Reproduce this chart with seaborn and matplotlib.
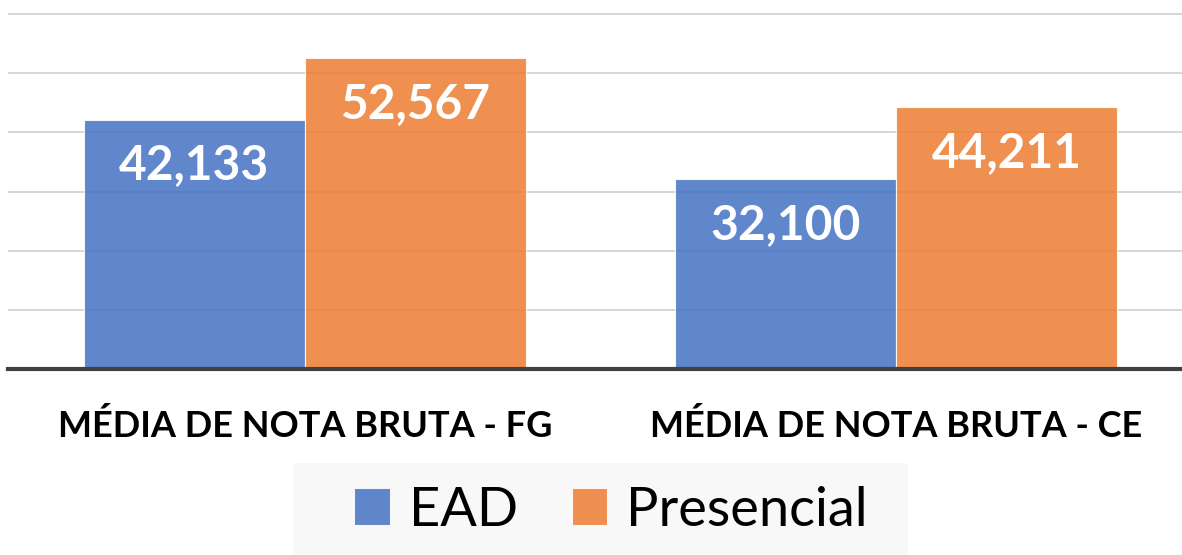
import matplotlib
matplotlib.use("Agg")
import matplotlib.pyplot as plt
from matplotlib.patches import Rectangle
import pandas as pd
import seaborn as sns

categorias = ["MÉDIA DE NOTA BRUTA - FG", "MÉDIA DE NOTA BRUTA - CE"]
ead = [42.133, 32.100]
presencial = [52.567, 44.211]
series = ["EAD", "Presencial"]

df = pd.DataFrame({
    "categoria": categorias * 2,
    "nota": ead + presencial,
    "modalidade": [series[0]] * 2 + [series[1]] * 2,
})

sns.set_theme(style="white")
plt.rcParams["font.family"] = ["Lato", "DejaVu Sans"]

fig = plt.figure(figsize=(11.82, 5.55), dpi=100)
ax = fig.add_axes([8 / 1182, 186 / 555, 1 - 8 / 1182, 1 - 186 / 555])

cores = {"EAD": "#4472C4", "Presencial": "#ED7D31"}
sns.barplot(data=df, x="categoria", y="nota", hue="modalidade",
            palette=cores, saturation=1, width=0.748, alpha=0.85,
            edgecolor="white", linewidth=0.8, ax=ax, legend=False, zorder=2)

ax.set_ylim(0, 62.37)
ax.set_xlim(-0.5025, 1.484)
ax.set_yticks([10, 20, 30, 40, 50, 60])
ax.yaxis.grid(True, color="#d0d0d0", linewidth=1.2, zorder=0)
ax.set_axisbelow(True)
ax.tick_params(axis="y", left=False, labelleft=False)
ax.tick_params(axis="x", length=0, pad=29)
for lab in ax.get_xticklabels():
    lab.set_fontsize(26)
    lab.set_fontweight("bold")
    lab.set_color("black")
ax.set_xlabel("")
ax.set_ylabel("")
for s in ["top", "left", "right"]:
    ax.spines[s].set_visible(False)
ax.spines["bottom"].set_color("#404040")
ax.spines["bottom"].set_linewidth(3)

for cont in ax.containers:
    for barra in cont:
        v = barra.get_height()
        ax.annotate(f"{v:.3f}".replace(".", ","),
                    (barra.get_x() + barra.get_width() / 2, v),
                    xytext=(0, -33), textcoords="offset points",
                    ha="center", va="center", color="white",
                    fontsize=34.5, fontweight="bold")

# fundo da legenda
fig.patches.append(Rectangle((293 / 1182, 0), 615 / 1182, 92 / 555,
                             transform=fig.transFigure, facecolor="#f8f8f8",
                             edgecolor="none", zorder=0))
handles = [Rectangle((0, 0), 1, 1, facecolor=cores[s], alpha=0.85,
                     edgecolor="white", linewidth=0.8) for s in series]
leg = fig.legend(handles, series, loc="center", ncol=2,
                 bbox_to_anchor=(611 / 1182, 45 / 555), frameon=False,
                 fontsize=39, handlelength=0.65, handleheight=0.65,
                 handletextpad=0.35, columnspacing=1.0)
for t in leg.get_texts():
    t.set_color("black")

fig.savefig("out.png", dpi=100)
